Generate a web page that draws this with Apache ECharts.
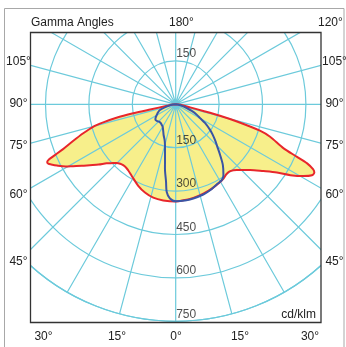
<!DOCTYPE html>
<html><head><meta charset="utf-8">
<script src="https://cdn.jsdelivr.net/npm/echarts@6/dist/echarts.min.js"></script>
<style>html,body{margin:0;padding:0;background:#fff}#c{width:346px;height:347px}</style>
</head><body><div id="c"></div>
<script>
// ---- data (cd/klm vs gamma angle) ----
const redLeftGamma = [90, 84, 80, 78.5, 78, 77.2, 76, 74.8, 72.6, 70.3, 68.3, 67.2, 66.5, 65.8, 65, 64.2, 62.7, 60.5, 58.9, 56.8, 54.7, 52, 49.5, 47, 45.2, 43, 40.8, 38, 35.8, 32.5, 29.8, 24.7, 19.2, 13.5, 7.4, 0];
const redLeftValue = [0, 10, 30, 90, 150, 210, 258, 296, 335, 377, 419, 453, 477, 487, 486, 478, 462, 437, 414, 388, 364, 338, 314, 298, 288, 281, 278, 278, 281, 288, 295, 310, 323, 332, 335, 336];
const redRightGamma = [0, 4.5, 10.7, 17.2, 23.2, 28.3, 32.8, 36.3, 39.2, 43, 48.6, 52.7, 56, 58.3, 60.7, 62.5, 63.8, 64.7, 65.8, 66.6, 67.8, 71, 72.6, 74.3, 75.5, 76.5, 78, 80, 84, 90];
const redRightValue = [336, 333, 329, 323, 317, 311, 305, 298, 298, 310, 343, 381, 422, 466, 507, 531, 534, 525, 498, 457, 403, 345, 305, 220, 158, 98, 51, 30, 10, 0];
const blueLeftGamma = [90, 82, 76, 70, 65, 60.6, 56, 52.8, 47.8, 43, 39, 34, 30, 25, 21.5, 17.5, 14.7, 11.9, 9.5, 7.1, 5.9, 3.5, 0];
const blueLeftValue = [0, 15, 33, 58, 68, 75, 84, 88, 86, 83, 83, 86, 90, 102, 114, 128, 146, 179, 225, 270, 304, 326, 335];
const blueRightGamma = [0, 5.5, 10.6, 17, 21.8, 27.1, 31.3, 34, 37.8, 41.2, 44.5, 47.5, 50.5, 53.3, 57.5, 60.5, 63.7, 67.5, 71.4, 78, 84, 90];
const blueRightValue = [335, 334, 331, 326, 320, 311, 307, 295, 266, 233, 205, 185, 166, 148, 120, 97, 81, 60, 40, 18, 7, 0];

const ringValues = [150, 300, 450, 600, 750];
const ringValuesTop = [150];
const leftTickLabels = ['105°', '90°', '75°', '60°', '45°'];
const rightTickLabels = ['105°', '90°', '75°', '60°', '45°'];
const bottomTickLabels = ['30°', '15°', '0°', '15°', '30°'];
const topTickLabels = ['180°', '120°'];
const titleText = 'Gamma Angles';
const unitText = 'cd/klm';

// ---- build polar data: left side angle = gamma, right side angle = 360 - gamma ----
function loop(lg, lv, rg, rv) {
  const d = [];
  lg.forEach((g, i) => d.push([lv[i], g]));
  rg.forEach((g, i) => d.push([rv[i], 360 - g]));
  return d;
}
const redData = loop(redLeftGamma, redLeftValue, redRightGamma, redRightValue);
const blueData = loop(blueLeftGamma, blueLeftValue, blueRightGamma, blueRightValue);
const labelData = ringValues.map(v => [v, 0]).concat(ringValuesTop.map(v => [v, 180]));

// ---- layout ----
const CX = 175.7, CY = 104.3, R = 217;
const box = {x: 30.5, y: 32.5, w: 290.5, h: 290};
const FONT = '12px "Liberation Sans", Arial, sans-serif';
const TXT = '#222';
const GRID = '#6ccadb';

function txt(text, x, y, align) {
  return {type: 'text', z: 120, style: {text, x, y, font: FONT, fill: TXT,
    align: align, textAlign: align, verticalAlign: 'middle', textVerticalAlign: 'middle'}};
}
const leftY = [62, 104, 146, 195, 262];
const bottomX = [43.5, 117, 176, 240, 310];

const graphics = [
  {type: 'rect', z: 100, shape: {x: 0, y: 0, width: 346, height: box.y}, style: {fill: '#fff'}},
  {type: 'rect', z: 100, shape: {x: 0, y: 0, width: box.x, height: 347}, style: {fill: '#fff'}},
  {type: 'rect', z: 100, shape: {x: box.x + box.w, y: 0, width: 30, height: 347}, style: {fill: '#fff'}},
  {type: 'rect', z: 100, shape: {x: 0, y: box.y + box.h, width: 346, height: 30}, style: {fill: '#fff'}},
  {type: 'rect', z: 110, shape: {x: 4.5, y: 8.5, width: 339.5, height: 350}, style: {fill: null, stroke: '#a8a8a8', lineWidth: 1}},
  {type: 'rect', z: 110, shape: {x: box.x, y: box.y, width: box.w, height: box.h}, style: {fill: null, stroke: '#333', lineWidth: 1.3}},
  txt(titleText, 31, 23, 'left'),
  txt(topTickLabels[0], 169, 23, 'left'),
  txt(topTickLabels[1], 318, 23, 'left'),
  txt(unitText, 316, 315, 'right'),
];
leftTickLabels.forEach((t, i) => graphics.push(txt(t, 18.5, leftY[i], 'center')));
rightTickLabels.forEach((t, i) => graphics.push(txt(t, 334.5, leftY[i], 'center')));
bottomTickLabels.forEach((t, i) => graphics.push(txt(t, bottomX[i], 337, 'center')));

const chart = echarts.init(document.getElementById('c'), null, {renderer: 'canvas'});
chart.setOption({
  animation: false,
  backgroundColor: '#fff',
  polar: {center: [CX, CY], radius: R},
  angleAxis: {
    type: 'value', min: 0, max: 360, interval: 15, startAngle: 270, clockwise: true, z: 2,
    axisLine: {show: true, lineStyle: {color: GRID, width: 1.2}},
    axisTick: {show: false}, axisLabel: {show: false},
    splitLine: {show: true, lineStyle: {color: GRID, width: 1.2}}
  },
  radiusAxis: {
    type: 'value', min: 0, max: 750, interval: 150, z: 2,
    axisLine: {show: false}, axisTick: {show: false}, axisLabel: {show: false},
    splitLine: {show: true, lineStyle: {color: GRID, width: 1.2}}
  },
  series: [
    // fill under the grid
    {type: 'line', coordinateSystem: 'polar', data: redData, symbol: 'none', smooth: 0.3, z: 0,
     lineStyle: {width: 0, opacity: 0}, areaStyle: {color: '#f7ef8b', opacity: 1}, silent: true},
    {type: 'line', coordinateSystem: 'polar', data: redData, symbol: 'none', smooth: 0.3, z: 4,
     lineStyle: {color: '#e8262b', width: 2}},
    {type: 'line', coordinateSystem: 'polar', data: blueData, symbol: 'none', smooth: 0.3, z: 5,
     lineStyle: {color: '#3a55a5', width: 2}},
    {type: 'scatter', coordinateSystem: 'polar', data: labelData, symbolSize: 1, z: 6,
     itemStyle: {color: 'rgba(0,0,0,0)'}, silent: true,
     label: {show: true, position: 'right', distance: 0, offset: [0, -7],
       formatter: p => String(p.value[0]), color: TXT, fontSize: 12,
       fontFamily: '"Liberation Sans", Arial, sans-serif'}}
  ],
  graphic: {elements: graphics}
});
</script></body></html>
